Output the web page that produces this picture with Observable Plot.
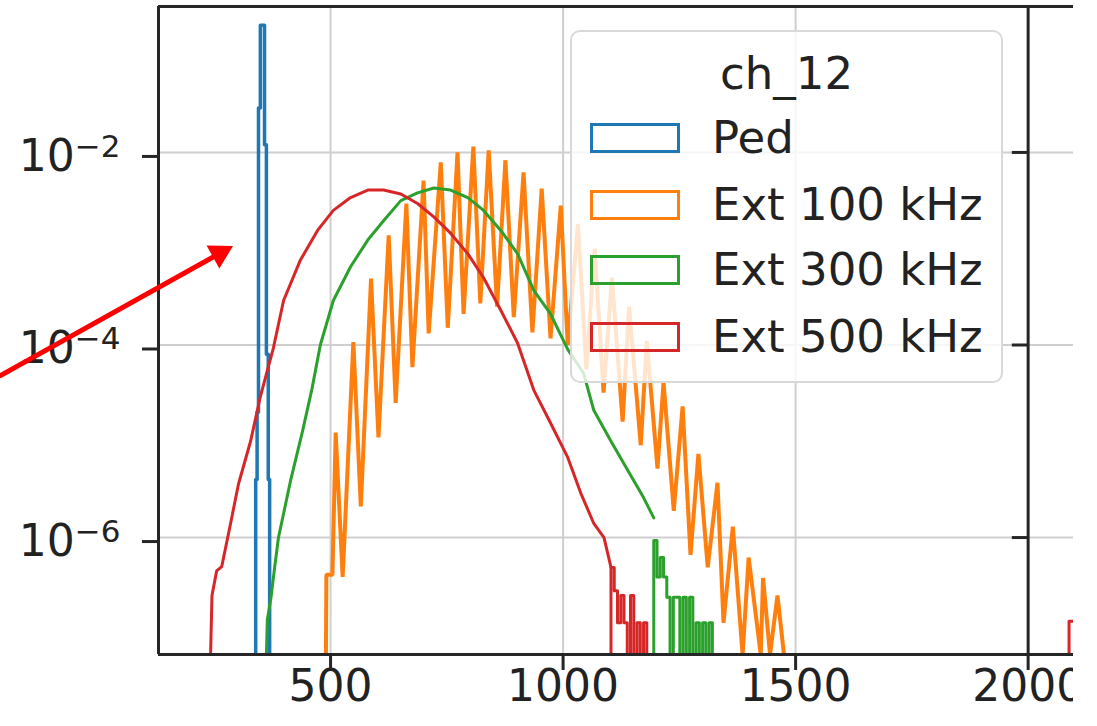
<!DOCTYPE html>
<html>
<head>
<meta charset="utf-8">
<script src="https://cdn.jsdelivr.net/npm/d3@7"></script>
<script src="https://cdn.jsdelivr.net/npm/@observablehq/plot@0.6"></script>
<style>
  body { margin: 0; background: #fff; }
  #wrap { position: relative; width: 1073px; height: 726px; overflow: hidden; background: #fff; font-family: "DejaVu Sans", sans-serif; }
  #wrap svg { max-width: none !important; width: 1097px !important; height: 726px !important; }
  #legend { position: absolute; left: 570px; top: 30px; width: 433px; height: 353px; box-sizing: border-box;
            border: 2px solid #d9d9d9; border-radius: 10px; background: rgba(255,255,255,0.8); }
  #legend .title { position: absolute; left: 0; width: 100%; text-align: center; top: 16px; font-size: 45px; line-height: 52px; color: #222; }
  #legend .row { position: absolute; left: 18px; height: 52px; }
  #legend .patch { position: absolute; left: 0; top: 11px; width: 90px; height: 30px; box-sizing: border-box; border: 3px solid; }
  #legend .lab { position: absolute; left: 122px; top: 0; font-size: 45px; line-height: 52px; white-space: nowrap; color: #222; }
</style>
</head>
<body>
<div id="wrap"></div>
<script>
// ---------- data ----------
const seriesNames = ["Ped", "Ext 100 kHz", "Ext 300 kHz", "Ext 500 kHz"];
const seriesColors = ["#1f77b4", "#ff7f0e", "#2ca02c", "#d62728"];
const legendTitle = "ch_12";

const xTicks = [500, 1000, 1500, 2000];
const xTickLabels = ["500", "1000", "1500", "2000"];
const yTicks = [1e-6, 1e-4, 1e-2];
const yTickLabels = ["10^−6", "10^−4", "10^−2"];

// Ped: step histogram (bin edges + densities)
const pedEdges = [339, 342, 345, 349, 358, 362, 366, 369];
const pedValues = [4e-6, 2e-5, 0.029, 0.21, 0.012, 8e-5, 4e-6];

// Ext 100 kHz: peak / trough sequence of the oscillating histogram
const ext100X = [490, 491, 504, 511, 526, 549, 565, 587, 603, 625, 640, 663, 676, 700, 711, 737, 752, 773, 786, 807, 822,
  840, 858, 876, 894, 915, 934, 954, 973, 995, 1010, 1032, 1050, 1068, 1087, 1105, 1128, 1142, 1167, 1180, 1203,
  1216, 1238, 1257, 1274, 1291, 1311, 1332, 1345, 1365, 1386, 1399, 1425, 1430, 1445, 1461, 1475];
const ext100Y = [0, 4.1e-7, 4.1e-7, 1.23e-5, 3.9e-7, 1.07e-4, 2.1e-6, 4.9e-4, 1.1e-5, 1.38e-3, 2.5e-5, 2.95e-3, 5.9e-5, 5.1e-3, 1.32e-4, 7.9e-3, 1.51e-4, 1.0e-2, 2.1e-4, 1.15e-2, 2.7e-4,
  1.05e-2, 2.5e-4, 8.3e-3, 1.95e-4, 6.2e-3, 1.35e-4, 4.2e-3, 1.17e-4, 2.8e-3, 1.0e-4, 1.8e-3, 5.6e-5, 1.0e-3, 3.2e-5, 5.0e-4, 1.6e-5, 2.5e-4, 9.1e-6, 1.1e-4, 5.2e-6,
  4.1e-5, 1.9e-6, 2.3e-5, 6.6e-7, 7.4e-6, 4.9e-7, 3.7e-6, 1.3e-7, 1.3e-6, 0, 6.2e-7, 0, 3.8e-7, 0, 2.5e-7, 0];

// Ext 300 kHz: smooth body + step tail
const ext300X = [362, 364, 372, 380, 388, 414, 440, 460, 478, 506, 543, 580, 614, 651, 687, 722, 758, 795, 829, 866,
  902, 937, 973, 1010, 1044, 1066, 1103, 1139, 1173, 1195];
const ext300Y = [0, 1.4e-7, 2.4e-7, 5e-7, 1.0e-6, 3.9e-6, 1.29e-5, 3.5e-5, 1.0e-4, 2.9e-4, 6.5e-4, 1.23e-3, 1.95e-3, 3.16e-3, 3.8e-3, 4.27e-3, 4.07e-3, 3.4e-3, 2.5e-3, 1.55e-3,
  8.9e-4, 3.7e-4, 2.1e-4, 9e-5, 5.1e-5, 2.1e-5, 1.0e-5, 5.0e-6, 2.6e-6, 1.6e-6];
const ext300TailEdges = [1195, 1202, 1209, 1216, 1223, 1230, 1237, 1244, 1251, 1258, 1265, 1272, 1279, 1286, 1293, 1300, 1307, 1314, 1321];
const ext300TailValues = [9.3e-7, 3.9e-7, 6.2e-7, 3.9e-7, 2.4e-7, 0, 2.4e-7, 2.4e-7, 0, 2.4e-7, 0, 2.4e-7, 0, 1.3e-7, 0, 1.3e-7, 0, 1.3e-7];

// Ext 500 kHz: smooth body + step tail
const ext500X = [242, 245, 255, 266, 285, 302, 328, 349, 377, 399, 435, 472, 506, 543, 580, 614, 651, 687, 722, 758,
  795, 829, 866, 902, 937, 973, 1010, 1038, 1066, 1088, 1103];
const ext500Y = [0, 2.5e-7, 4.5e-7, 5.0e-7, 1.4e-6, 3.6e-6, 1.0e-5, 2.9e-5, 9.3e-5, 2.9e-4, 7.6e-4, 1.55e-3, 2.5e-3, 3.4e-3, 4.07e-3, 4.07e-3, 3.7e-3, 2.95e-3, 2.14e-3, 1.45e-3,
  8.9e-4, 5.0e-4, 2.3e-4, 1.05e-4, 3.4e-5, 1.55e-5, 6.8e-6, 2.9e-6, 1.4e-6, 1.0e-6, 4.9e-7];
const ext500TailEdges = [1103, 1110, 1117, 1124, 1131, 1138, 1145, 1152, 1159, 1166, 1173, 1180];
const ext500TailValues = [4.9e-7, 2.8e-7, 1.3e-7, 2.5e-7, 1.3e-7, 0, 2.5e-7, 0, 1.3e-7, 0, 1.3e-7];
const ext500FarEdges = [2088, 2120];
const ext500FarValues = [1.35e-7];

// annotation arrow (data coordinates)
const arrowFrom = {x: -210, y: 4.8e-5};
const arrowTo = {x: 289, y: 1.06e-3};

// ---------- build tables ----------
const yMin = 6.1e-8, yMax = 0.328;
const floorV = v => (v > 0 ? v : yMin);
function stepTable(edges, values) {
  const pts = [{x: edges[0], y: yMin}];
  values.forEach((v, i) => pts.push({x: edges[i], y: floorV(v)}));
  pts.push({x: edges[edges.length - 1], y: yMin});
  return pts;
}
const lineTable = (xs, ys) => xs.map((x, i) => ({x, y: floorV(ys[i])}));

const ped = stepTable(pedEdges, pedValues);
const ext100 = lineTable(ext100X, ext100Y);
const ext300 = lineTable(ext300X, ext300Y);
const ext300Tail = stepTable(ext300TailEdges, ext300TailValues);
const ext500 = lineTable(ext500X, ext500Y);
const ext500Tail = stepTable(ext500TailEdges, ext500TailValues);
const ext500Far = stepTable(ext500FarEdges, ext500FarValues);

const spine = "#262626";
const plot = Plot.plot({
  width: 1097, height: 726,
  marginLeft: 158, marginRight: 21, marginTop: 6, marginBottom: 72,
  style: {fontFamily: "DejaVu Sans, sans-serif", fontSize: "44px", color: "#222", background: "transparent", overflow: "visible", maxWidth: "none"},
  x: {type: "linear", domain: [130, 2104]},
  y: {type: "log", domain: [yMin, yMax]},
  marks: [
    Plot.gridX(xTicks, {stroke: "#cfcfcf", strokeOpacity: 1, strokeWidth: 2}),
    Plot.gridY(yTicks, {stroke: "#cfcfcf", strokeOpacity: 1, strokeWidth: 2}),
    Plot.line(ped, {x: "x", y: "y", curve: "step-after", stroke: seriesColors[0], strokeWidth: 3.5, clip: true}),
    Plot.line(ext100, {x: "x", y: "y", curve: "linear", stroke: seriesColors[1], strokeWidth: 4, strokeLinejoin: "miter", clip: true}),
    Plot.line(ext300, {x: "x", y: "y", curve: "linear", stroke: seriesColors[2], strokeWidth: 3, clip: true}),
    Plot.line(ext300Tail, {x: "x", y: "y", curve: "step-after", stroke: seriesColors[2], strokeWidth: 3, clip: true}),
    Plot.line(ext500, {x: "x", y: "y", curve: "linear", stroke: seriesColors[3], strokeWidth: 3, clip: true}),
    Plot.line(ext500Tail, {x: "x", y: "y", curve: "step-after", stroke: seriesColors[3], strokeWidth: 3, clip: true}),
    Plot.line(ext500Far, {x: "x", y: "y", curve: "step-after", stroke: seriesColors[3], strokeWidth: 3, clip: true}),
    // spines
    Plot.ruleX([130], {stroke: spine, strokeWidth: 3}),
    Plot.ruleX([2000], {stroke: spine, strokeWidth: 3}),
    Plot.ruleY([yMin, yMax], {stroke: spine, strokeWidth: 3}),
    Plot.ruleY(yTicks, {x1: 1966, x2: 2000, stroke: spine, strokeWidth: 3}),
    Plot.axisX(xTicks, {tickSize: 16, tickPadding: -1, strokeWidth: 3, stroke: spine, fill: "#222",
      tickFormat: d => xTickLabels[xTicks.indexOf(d)], label: null}),
    Plot.axisY(yTicks, {tickSize: 16, tickPadding: 22, strokeWidth: 3, stroke: spine, fill: "#222", dy: 4,
      tickFormat: d => yTickLabels[yTicks.indexOf(d)], label: null}),
    // annotation arrow
    Plot.arrow([0], {x1: () => arrowFrom.x, y1: () => arrowFrom.y, x2: () => arrowTo.x, y2: () => arrowTo.y,
      stroke: "#ff0000", strokeWidth: 5, headLength: 0, insetEnd: 10, clip: false}),
    Plot.dot([0], {x: () => arrowTo.x, y: () => arrowTo.y, symbol: "triangle", r: 9.8, rotate: 61,
      dx: -12.8, dy: 7.1, fill: "#ff0000", stroke: "none"})
  ]
});

// superscript exponents on the log axis labels
plot.querySelectorAll('[aria-label="y-axis tick label"] text').forEach(t => {
  const s = t.textContent;
  const parts = s.split("^");
  if (parts.length !== 2) return;
  while (t.firstChild) t.removeChild(t.firstChild);
  t.appendChild(document.createTextNode(parts[0]));
  const sup = document.createElementNS("http://www.w3.org/2000/svg", "tspan");
  sup.setAttribute("font-size", "31px");
  sup.setAttribute("dy", "-14");
  sup.textContent = parts[1];
  t.appendChild(sup);
});

const wrap = document.getElementById("wrap");
wrap.appendChild(plot);

// legend
const legend = document.createElement("div");
legend.id = "legend";
const title = document.createElement("div");
title.className = "title";
title.textContent = legendTitle;
legend.appendChild(title);
const rowTops = [80, 147, 212, 279];
seriesNames.forEach((name, i) => {
  const row = document.createElement("div");
  row.className = "row";
  row.style.top = rowTops[i] + "px";
  const patch = document.createElement("span");
  patch.className = "patch";
  patch.style.borderColor = seriesColors[i];
  const lab = document.createElement("span");
  lab.className = "lab";
  lab.textContent = name;
  row.appendChild(patch);
  row.appendChild(lab);
  legend.appendChild(row);
});
wrap.appendChild(legend);
</script>
</body>
</html>
